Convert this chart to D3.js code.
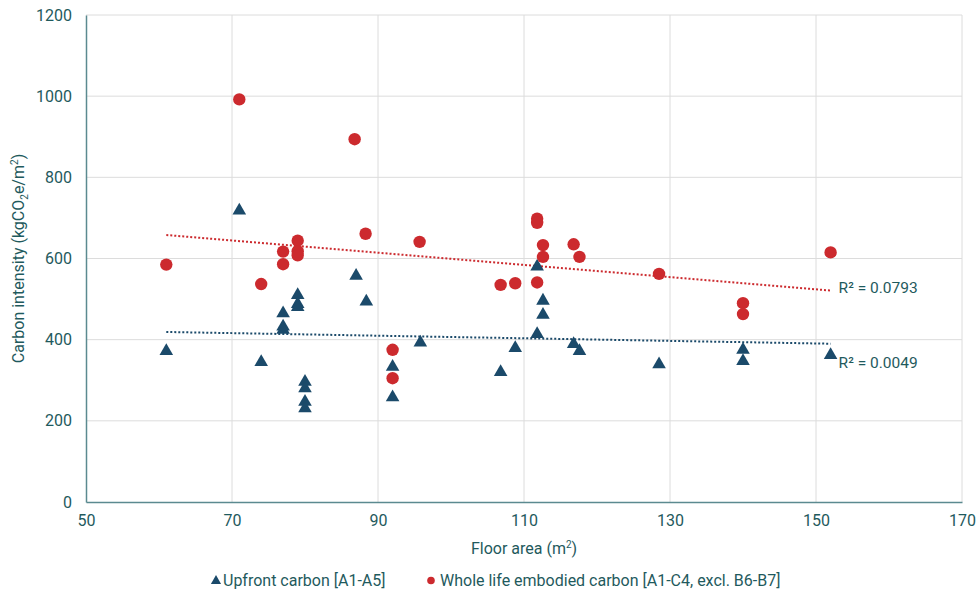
<!DOCTYPE html>
<html lang="en">
    <head>
        <meta charset="utf-8">
        <script type="text/javascript" src="https://cdn.jsdelivr.net/npm/d3@7"></script>
        <title>Carbon intensity vs floor area</title>
        <style type="text/css">
            body { margin: 0; background: #fff; }
            text { font-family: Roboto, "Noto Sans", sans-serif; fill: #1f5a5d; }
        </style>
    </head>
    <body>
        <script type="text/javascript">
            var w = 977;
            var h = 602;

            // Upfront carbon [A1-A5] (triangles)
            var upfrontArea = [61, 71, 74, 77, 77, 77, 79, 79, 79, 80, 80, 80, 80, 87, 88.4, 92, 92, 95.8,
                               106.8, 108.8, 111.8, 111.8, 112.6, 112.6, 116.8, 117.6, 128.5, 140, 140, 152];
            var upfrontCarbon = [372, 718, 345, 465, 432, 424, 510, 488, 480, 296, 280, 247, 231, 557, 494, 333, 258, 393,
                                 320, 379, 580, 414, 496, 461, 389, 372, 339, 375, 347, 362];

            // Whole life embodied carbon [A1-C4, excl. B6-B7] (circles)
            var wholeArea = [61, 71, 74, 77, 77, 79, 79, 79, 86.8, 88.3, 92, 92, 95.7, 106.8, 108.8,
                             111.8, 111.8, 111.8, 112.6, 112.6, 116.8, 117.6, 128.5, 140, 140, 152];
            var wholeCarbon = [585, 992, 537, 617, 586, 644, 618, 608, 894, 661, 375, 305, 641, 535, 539,
                               698, 688, 541, 633, 604, 635, 604, 562, 490, 463, 615];

            // linear trendlines: [start area, start value, end area, end value]
            var wholeTrend = [61, 658, 152, 521];
            var upfrontTrend = [61, 419, 152, 390];

            var xTicks = [50, 70, 90, 110, 130, 150, 170];
            var yTicks = [0, 200, 400, 600, 800, 1000, 1200];
            var r2Labels = ["R² = 0.0793", "R² = 0.0049"];

            var teal = "#1f5a5d";
            var red = "#cc2a2e";
            var navy = "#1b4a6a";

            var xScale = d3.scaleLinear().domain([50, 170]).range([86, 962]);
            var yScale = d3.scaleLinear().domain([0, 1200]).range([502, 15]);

            var svg = d3.select("body").append("svg")
                        .attr("width", w)
                        .attr("height", h);

            // gridlines
            svg.append("g").selectAll("line")
                .data(yTicks.slice(1))
                .enter().append("line")
                .attr("x1", xScale(50)).attr("x2", xScale(170))
                .attr("y1", function(d){ return yScale(d); })
                .attr("y2", function(d){ return yScale(d); })
                .attr("stroke", "#dcdcdc").attr("stroke-width", 1);
            svg.append("g").selectAll("line")
                .data(xTicks.slice(1))
                .enter().append("line")
                .attr("x1", function(d){ return xScale(d); })
                .attr("x2", function(d){ return xScale(d); })
                .attr("y1", yScale(0)).attr("y2", yScale(1200))
                .attr("stroke", "#dcdcdc").attr("stroke-width", 1);

            // axes, drawn with d3 and stripped down to the bare lines
            var xAxis = svg.append("g")
                .attr("transform", "translate(0," + yScale(0) + ")")
                .call(d3.axisBottom(xScale).tickValues(xTicks).tickFormat(d3.format("d"))
                        .tickSize(0).tickPadding(13));
            var yAxis = svg.append("g")
                .attr("transform", "translate(" + xScale(50) + ",0)")
                .call(d3.axisLeft(yScale).tickValues(yTicks).tickFormat(d3.format("d"))
                        .tickSize(0).tickPadding(14));
            [xAxis, yAxis].forEach(function(a){
                a.select(".domain").attr("stroke", "#5b8a90").attr("stroke-width", 1.5);
                a.selectAll("text").attr("font-size", "16px").attr("fill", teal)
                    .attr("font-family", "Roboto, sans-serif");
            });

            function trend(t, color) {
                svg.append("line")
                    .attr("x1", xScale(t[0])).attr("y1", yScale(t[1]))
                    .attr("x2", xScale(t[2])).attr("y2", yScale(t[3]))
                    .attr("stroke", color).attr("stroke-width", 2)
                    .attr("stroke-dasharray", "2,2");
            }
            trend(wholeTrend, red);
            trend(upfrontTrend, navy);

            // triangles
            var tri = d3.symbol().type(d3.symbolTriangle).size(80);
            svg.append("g").selectAll("path")
                .data(upfrontArea)
                .enter().append("path")
                .attr("d", tri)
                .attr("transform", function(d, i){
                    return "translate(" + xScale(d) + "," + yScale(upfrontCarbon[i]) + ")";
                })
                .attr("fill", navy);

            // circles
            svg.append("g").selectAll("circle")
                .data(wholeArea)
                .enter().append("circle")
                .attr("cx", function(d){ return xScale(d); })
                .attr("cy", function(d, i){ return yScale(wholeCarbon[i]); })
                .attr("r", 6.2)
                .attr("fill", red);

            // R² labels next to the line ends
            svg.append("text")
                .attr("x", xScale(wholeTrend[2]) + 8).attr("y", yScale(wholeTrend[3]) + 2)
                .attr("font-size", "15.5px").text(r2Labels[0]);
            svg.append("text")
                .attr("x", xScale(upfrontTrend[2]) + 8).attr("y", yScale(upfrontTrend[3]) + 24)
                .attr("font-size", "15.5px").text(r2Labels[1]);

            // axis titles, centred on the plot area
            var xt = svg.append("text")
                .attr("x", (xScale.range()[0] + xScale.range()[1]) / 2).attr("y", 554)
                .attr("text-anchor", "middle")
                .attr("font-size", "16px");
            xt.append("tspan").text("Floor area (m");
            xt.append("tspan").attr("font-size", "10px").attr("dy", -6).text("2");
            xt.append("tspan").attr("dy", 6).text(")");

            var yt = svg.append("text")
                .attr("transform", "translate(24," + (yScale.range()[0] + yScale.range()[1]) / 2 + ") rotate(-90)")
                .attr("text-anchor", "middle")
                .attr("font-size", "16px");
            yt.append("tspan").text("Carbon intensity (kgCO");
            yt.append("tspan").attr("font-size", "10px").attr("dy", 4).text("2");
            yt.append("tspan").attr("dy", -4).text("e/m");
            yt.append("tspan").attr("font-size", "10px").attr("dy", -6).text("2");
            yt.append("tspan").attr("dy", 6).text(")");

            // legend
            var legend = svg.append("g").attr("transform", "translate(0,586)");
            legend.append("path")
                .attr("d", d3.symbol().type(d3.symbolTriangle).size(45))
                .attr("transform", "translate(216,-5)")
                .attr("fill", navy);
            legend.append("text").attr("x", 223).attr("y", 0)
                .attr("font-size", "16px").text("Upfront carbon [A1-A5]");
            legend.append("circle").attr("cx", 431).attr("cy", -5.5).attr("r", 3.8).attr("fill", red);
            legend.append("text").attr("x", 440).attr("y", 0)
                .attr("font-size", "16px").text("Whole life embodied carbon [A1-C4, excl. B6-B7]");
        </script>
    </body>
</html>
